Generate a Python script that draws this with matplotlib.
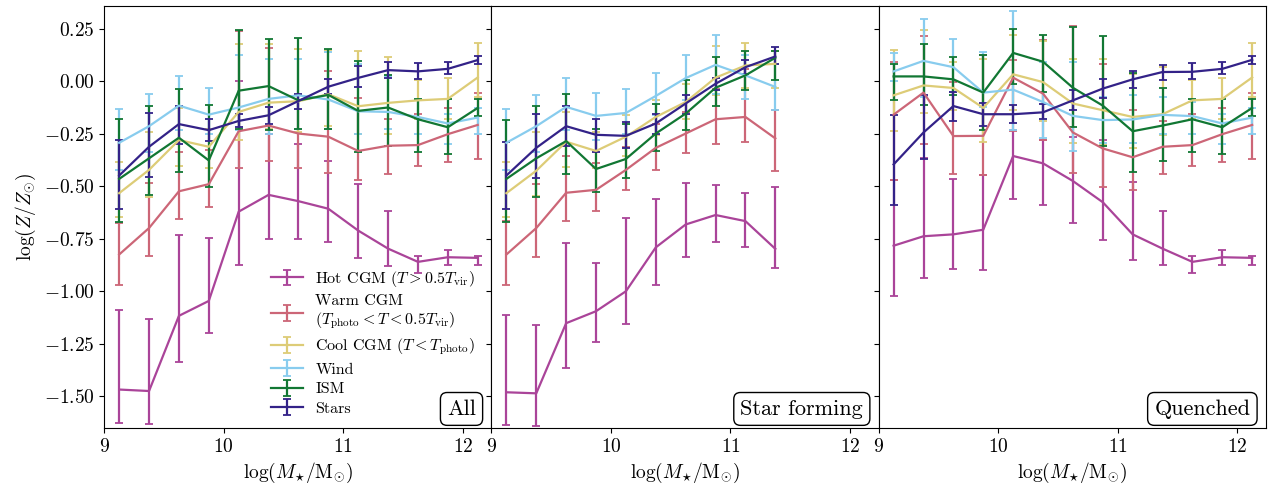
import matplotlib
matplotlib.use('Agg')
import matplotlib.pyplot as plt
import numpy as np

plt.rcParams['font.family'] = 'serif'
plt.rcParams['font.serif'] = ['cmr10']
plt.rcParams['mathtext.fontset'] = 'cm'
plt.rcParams['axes.formatter.use_mathtext'] = True
plt.rcParams['axes.unicode_minus'] = True

# stellar mass bins
mass_all = [9.125, 9.375, 9.625, 9.875, 10.125, 10.375, 10.625, 10.875, 11.125, 11.375, 11.625, 11.875, 12.125]
mass_sf = [9.125, 9.375, 9.625, 9.875, 10.125, 10.375, 10.625, 10.875, 11.125, 11.375]
mass_q = [9.125, 9.375, 9.625, 9.875, 10.125, 10.375, 10.625, 10.875, 11.125, 11.375, 11.625, 11.875, 12.125]

labels = ['Hot CGM ($T > 0.5T_{\\rm vir}$)',
          'Warm CGM\n($T_{\\rm photo} < T < 0.5T_{\\rm vir}$)',
          'Cool CGM ($T < T_{\\rm photo}$)',
          'Wind', 'ISM', 'Stars']
colours = ['#AA4499', '#CC6677', '#DDCC77', '#88CCEE', '#117733', '#332288']

# rows: hot, warm, cool, wind, ism, stars  (median, 84th, 16th percentile)
med_all = [
    [-1.467, -1.474, -1.116, -1.045, -0.620, -0.540, -0.570, -0.606, -0.710, -0.796, -0.859, -0.837, -0.840],
    [-0.824, -0.698, -0.523, -0.489, -0.237, -0.210, -0.248, -0.263, -0.331, -0.306, -0.303, -0.251, -0.207],
    [-0.532, -0.421, -0.279, -0.311, -0.145, -0.101, -0.094, -0.061, -0.118, -0.102, -0.090, -0.083, 0.019],
    [-0.292, -0.213, -0.115, -0.158, -0.124, -0.083, -0.066, -0.086, -0.142, -0.145, -0.169, -0.200, -0.172],
    [-0.464, -0.366, -0.268, -0.376, -0.044, -0.022, -0.090, -0.064, -0.140, -0.124, -0.180, -0.218, -0.126],
    [-0.448, -0.311, -0.203, -0.232, -0.188, -0.161, -0.093, -0.025, 0.017, 0.054, 0.048, 0.060, 0.102]]
hi_all = [
    [-1.088, -1.129, -0.731, -0.745, 0.004, -0.250, -0.300, -0.380, -0.489, -0.617, -0.832, -0.802, -0.832],
    [-0.674, -0.485, -0.335, -0.327, 0.239, 0.160, -0.066, 0.048, -0.077, -0.177, -0.153, -0.124, -0.053],
    [-0.385, -0.240, -0.124, -0.224, 0.176, 0.179, 0.155, 0.150, 0.144, 0.116, 0.005, 0.018, 0.184],
    [-0.132, -0.058, 0.026, -0.031, 0.127, 0.108, 0.108, 0.139, 0.084, 0.027, -0.090, -0.154, -0.126],
    [-0.180, -0.115, -0.034, -0.110, 0.245, 0.203, 0.207, 0.155, 0.097, 0.029, -0.083, -0.083, -0.085],
    [-0.281, -0.148, -0.115, -0.180, -0.153, -0.121, -0.060, 0.011, 0.075, 0.094, 0.087, 0.092, 0.122]]
lo_all = [
    [-1.625, -1.632, -1.336, -1.199, -0.875, -0.750, -0.750, -0.764, -0.840, -0.880, -0.911, -0.873, -0.873],
    [-0.971, -0.832, -0.655, -0.598, -0.413, -0.377, -0.413, -0.434, -0.470, -0.440, -0.402, -0.385, -0.371],
    [-0.646, -0.548, -0.402, -0.413, -0.279, -0.224, -0.240, -0.213, -0.251, -0.251, -0.177, -0.181, -0.074],
    [-0.423, -0.338, -0.229, -0.252, -0.229, -0.248, -0.224, -0.224, -0.251, -0.226, -0.248, -0.300, -0.248],
    [-0.668, -0.543, -0.432, -0.502, -0.224, -0.232, -0.224, -0.224, -0.335, -0.306, -0.338, -0.347, -0.165],
    [-0.608, -0.456, -0.298, -0.282, -0.219, -0.203, -0.131, -0.058, -0.026, 0.018, 0.013, 0.034, 0.081]]

med_sf = [
    [-1.480, -1.485, -1.151, -1.094, -0.999, -0.790, -0.681, -0.636, -0.665, -0.797],
    [-0.824, -0.698, -0.530, -0.516, -0.421, -0.316, -0.248, -0.180, -0.169, -0.271],
    [-0.532, -0.425, -0.287, -0.331, -0.263, -0.169, -0.098, 0.018, 0.076, 0.084],
    [-0.292, -0.213, -0.121, -0.164, -0.150, -0.069, 0.016, 0.079, 0.029, -0.026],
    [-0.464, -0.366, -0.284, -0.417, -0.369, -0.248, -0.153, -0.030, 0.029, 0.113],
    [-0.448, -0.316, -0.213, -0.254, -0.259, -0.200, -0.105, -0.011, 0.068, 0.119]]
hi_sf = [
    [-1.113, -1.158, -0.769, -0.864, -0.650, -0.560, -0.485, -0.494, -0.532, -0.504],
    [-0.666, -0.489, -0.355, -0.390, -0.311, -0.203, -0.145, -0.034, 0.060, -0.137],
    [-0.385, -0.243, -0.145, -0.240, -0.161, -0.090, -0.011, 0.171, 0.184, 0.147],
    [-0.132, -0.063, 0.018, -0.053, -0.034, 0.041, 0.127, 0.223, 0.124, 0.084],
    [-0.184, -0.118, -0.058, -0.224, -0.203, -0.105, 0.005, 0.116, 0.147, 0.144],
    [-0.286, -0.153, -0.115, -0.180, -0.192, -0.153, -0.063, 0.016, 0.103, 0.163]]
lo_sf = [
    [-1.635, -1.641, -1.365, -1.241, -1.156, -0.971, -0.838, -0.763, -0.786, -0.886],
    [-0.971, -0.835, -0.663, -0.616, -0.518, -0.421, -0.342, -0.300, -0.290, -0.428],
    [-0.646, -0.545, -0.409, -0.413, -0.353, -0.256, -0.177, -0.063, -0.030, -0.030],
    [-0.423, -0.338, -0.232, -0.279, -0.248, -0.161, -0.090, -0.058, -0.082, -0.137],
    [-0.671, -0.548, -0.440, -0.526, -0.461, -0.331, -0.232, -0.115, -0.042, 0.005],
    [-0.608, -0.461, -0.306, -0.335, -0.319, -0.248, -0.153, -0.039, 0.034, 0.084]]

med_q = [
    [-0.782, -0.737, -0.728, -0.706, -0.355, -0.390, -0.474, -0.575, -0.728, -0.796, -0.859, -0.837, -0.840],
    [-0.158, -0.053, -0.260, -0.259, 0.018, -0.058, -0.243, -0.319, -0.361, -0.311, -0.303, -0.251, -0.207],
    [-0.066, -0.019, -0.031, -0.126, 0.034, -0.003, -0.105, -0.137, -0.169, -0.156, -0.090, -0.083, 0.019],
    [0.048, 0.098, 0.068, -0.053, -0.039, -0.098, -0.164, -0.184, -0.181, -0.159, -0.165, -0.200, -0.172],
    [0.024, 0.024, 0.010, -0.053, 0.136, 0.094, -0.030, -0.115, -0.237, -0.210, -0.180, -0.218, -0.126],
    [-0.395, -0.243, -0.117, -0.156, -0.156, -0.147, -0.090, -0.034, 0.010, 0.045, 0.046, 0.060, 0.103]]
hi_q = [
    [-0.469, -0.366, -0.466, -0.445, -0.232, -0.279, -0.263, -0.279, -0.481, -0.617, -0.832, -0.802, -0.832],
    [0.092, 0.218, -0.003, 0.124, 0.100, 0.198, 0.263, 0.084, -0.137, -0.188, -0.153, -0.124, -0.053],
    [0.152, 0.245, 0.095, 0.108, 0.223, 0.195, 0.108, 0.108, 0.037, 0.071, 0.005, 0.018, 0.184],
    [0.136, 0.297, 0.203, 0.139, 0.334, 0.092, 0.092, -0.074, -0.066, -0.074, -0.098, -0.154, -0.126],
    [0.084, 0.179, 0.116, 0.124, 0.250, 0.223, 0.261, 0.218, 0.040, -0.030, -0.083, -0.083, -0.085],
    [-0.158, -0.066, -0.050, -0.101, -0.113, -0.109, -0.042, 0.013, 0.049, 0.079, 0.089, 0.092, 0.122]]
lo_q = [
    [-1.022, -0.938, -0.895, -0.900, -0.560, -0.587, -0.673, -0.753, -0.848, -0.876, -0.911, -0.873, -0.873],
    [-0.469, -0.300, -0.440, -0.445, -0.237, -0.279, -0.437, -0.504, -0.516, -0.440, -0.402, -0.385, -0.371],
    [-0.237, -0.148, -0.137, -0.287, -0.137, -0.188, -0.295, -0.303, -0.319, -0.256, -0.177, -0.181, -0.074],
    [0.000, -0.074, -0.050, -0.121, -0.232, -0.268, -0.331, -0.295, -0.295, -0.248, -0.248, -0.300, -0.248],
    [-0.090, -0.110, -0.063, -0.232, -0.011, -0.050, -0.219, -0.306, -0.432, -0.377, -0.338, -0.347, -0.165],
    [-0.587, -0.369, -0.189, -0.211, -0.197, -0.180, -0.137, -0.077, -0.030, 0.005, 0.013, 0.034, 0.081]]

panels = [('All', mass_all, med_all, lo_all, hi_all),
          ('Star forming', mass_sf, med_sf, lo_sf, hi_sf),
          ('Quenched', mass_q, med_q, lo_q, hi_q)]

fig, axes = plt.subplots(1, 3, figsize=(12.71, 4.88), dpi=100, sharey=True)
plt.subplots_adjust(left=0.082, right=0.996, top=0.988, bottom=0.123, wspace=0)

for ax, (name, mass, med, lo, hi) in zip(axes, panels):
    for i in range(len(labels)):
        m = np.array(med[i])
        yerr = [m - np.array(lo[i]), np.array(hi[i]) - m]
        ax.errorbar(mass, m, yerr=yerr, color=colours[i], lw=1.6, elinewidth=1.6,
                    capsize=3, capthick=1.3, label=labels[i])
    ax.set_xlim(9, 12.24)
    ax.set_ylim(-1.65, 0.36)
    ax.set_xticks([9, 10, 11, 12])
    ax.tick_params(labelsize=14)
    ax.set_xlabel(r'$\log(M_{\star}/{\rm M}_{\odot})$', fontsize=14)
    ax.text(0.96, 0.022, name, transform=ax.transAxes, ha='right', va='bottom', fontsize=16,
            bbox=dict(boxstyle='round,pad=0.3', fc='white', ec='black'))

axes[0].set_yticks([-1.5, -1.25, -1.0, -0.75, -0.5, -0.25, 0.0, 0.25])
axes[0].yaxis.set_major_formatter(matplotlib.ticker.FormatStrFormatter('$%.2f$'))
axes[0].set_ylabel(r'$\log(Z/Z_{\odot})$', fontsize=14)
axes[0].legend(loc='lower right', frameon=False, fontsize=11.5, bbox_to_anchor=(0.995, -0.005),
               handlelength=2.0, labelspacing=0.33)

plt.savefig('out.png', dpi=100)
